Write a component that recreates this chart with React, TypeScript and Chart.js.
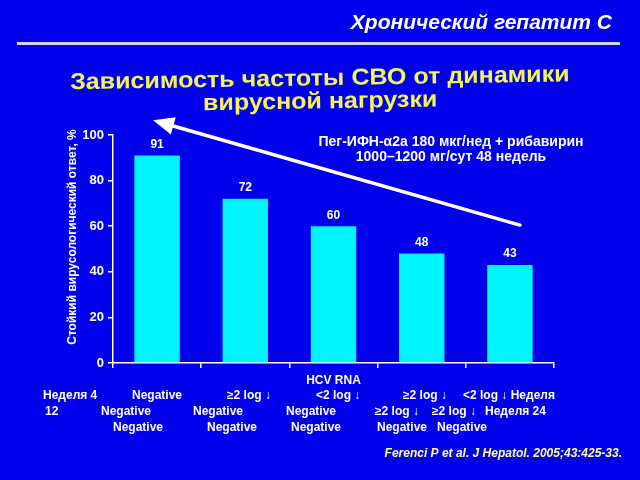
import React, { useEffect, useRef } from 'react';
import { Chart, registerables } from 'chart.js';

Chart.register(...registerables);

// ---- data ----
const categories = [
  'Нед.4 Negative / Нед.12 Negative / Нед.24 Negative',
  'Нед.4 ≥2 log ↓ / Нед.12 Negative / Нед.24 Negative',
  'Нед.4 <2 log ↓ / Нед.12 Negative / Нед.24 Negative',
  'Нед.4 ≥2 log ↓ / Нед.12 ≥2 log ↓ / Нед.24 Negative',
  'Нед.4 <2 log ↓ / Нед.12 ≥2 log ↓ / Нед.24 Negative',
];
const svrValues = [91, 72, 60, 48, 43];
const yMin = 0;
const yMax = 100;
const yStep = 20;

const headerText = 'Хронический гепатит С';
const titleLines = ['Зависимость частоты СВО от динамики', 'вирусной нагрузки'];
const noteLines = ['Пег-ИФН-α2а 180 мкг/нед + рибавирин', '1000–1200 мг/сут 48 недель'];
const yTitle = 'Стойкий вирусологический ответ, %';
const xTitle = 'HCV RNA';
const row1Texts = ['Неделя 4', 'Negative', '≥2 log ↓', '<2 log ↓', '≥2 log ↓', '<2 log ↓ Неделя'];
const row2Texts = ['12', 'Negative', 'Negative', 'Negative', '≥2 log ↓', '≥2 log ↓', 'Неделя 24'];
const row3Texts = ['Negative', 'Negative', 'Negative', 'Negative', 'Negative'];
const sourceText = 'Ferenci P et al. J Hepatol. 2005;43:425-33.';

// ---- layout / style (not data) ----
const row1X = [43, 132, 227, 316, 403, 463];
const row2X = [45, 101, 193, 286, 375, 432, 485];
const row3X = [113, 207, 291, 377, 437];
const BG = '#0000EA';
const BAR = '#00F6FF';
const FONT = '"Liberation Sans", Arial, sans-serif';

const overlayPlugin = {
  id: 'overlay',
  beforeDraw(chart: any) {
    const ctx = chart.ctx;
    ctx.save();
    ctx.fillStyle = BG;
    ctx.fillRect(0, 0, chart.width, chart.height);
    ctx.restore();
  },
  afterDraw(chart: any) {
    const ctx = chart.ctx;
    const xs = chart.scales.x;
    const ys = chart.scales.y;
    ctx.save();

    // header
    ctx.fillStyle = '#FFFFFF';
    ctx.font = `italic bold 21px ${FONT}`;
    ctx.textAlign = 'right';
    ctx.textBaseline = 'middle';
    ctx.fillText(headerText, 612, 23);

    ctx.strokeStyle = '#D4D4F4';
    ctx.lineWidth = 3;
    ctx.beginPath();
    ctx.moveTo(17, 43.5);
    ctx.lineTo(620, 43.5);
    ctx.stroke();

    // title (slightly tilted)
    ctx.fillStyle = '#F4F45A';
    ctx.font = `bold 23px ${FONT}`;
    ctx.textAlign = 'center';
    ctx.save();
    ctx.translate(320, 90);
    ctx.rotate(-0.016);
    ctx.scale(1.09, 1);
    ctx.fillText(titleLines[0], 0, -11);
    ctx.fillText(titleLines[1], 0, 12);
    ctx.restore();

    // note
    ctx.fillStyle = '#FFFFFF';
    ctx.font = `bold 14px ${FONT}`;
    ctx.fillText(noteLines[0], 451, 142);
    ctx.fillText(noteLines[1], 451, 157);

    // y title
    ctx.save();
    ctx.font = `bold 12px ${FONT}`;
    ctx.translate(73, 237);
    ctx.rotate(-Math.PI / 2);
    ctx.fillText(yTitle, 0, 0);
    ctx.restore();

    // x title
    ctx.font = `bold 12px ${FONT}`;
    ctx.fillText(xTitle, (xs.left + xs.right) / 2, 381);

    // row labels
    ctx.textAlign = 'left';
    row1Texts.forEach((t, i) => ctx.fillText(t, row1X[i], 396));
    row2Texts.forEach((t, i) => ctx.fillText(t, row2X[i], 412));
    row3Texts.forEach((t, i) => ctx.fillText(t, row3X[i], 428));

    // source
    ctx.fillStyle = '#FFFF99';
    ctx.font = `italic bold 12px ${FONT}`;
    ctx.textAlign = 'right';
    ctx.fillText(sourceText, 622, 454);

    // value labels
    ctx.fillStyle = '#FFFFFF';
    ctx.font = `bold 12px ${FONT}`;
    ctx.textAlign = 'center';
    const meta = chart.getDatasetMeta(0);
    meta.data.forEach((bar: any, i: number) => {
      ctx.fillText(String(svrValues[i]), bar.x, bar.y - 11);
    });

    // trend arrow
    const x0 = xs.getPixelForValue(4) + 10;
    const y0 = ys.getPixelForValue(60.5);
    const x1 = xs.getPixelForValue(0) - 4;
    const y1 = ys.getPixelForValue(106.5);
    const ang = Math.atan2(y1 - y0, x1 - x0);
    const headLen = 21;
    const headW = 9;
    const bx = x1 - headLen * Math.cos(ang);
    const by = y1 - headLen * Math.sin(ang);
    ctx.strokeStyle = '#FFFFFF';
    ctx.lineWidth = 3.5;
    ctx.lineCap = 'round';
    ctx.beginPath();
    ctx.moveTo(x0, y0);
    ctx.lineTo(bx, by);
    ctx.stroke();
    ctx.beginPath();
    ctx.moveTo(x1, y1);
    ctx.lineTo(bx + headW * Math.sin(ang), by - headW * Math.cos(ang));
    ctx.lineTo(bx - headW * Math.sin(ang), by + headW * Math.cos(ang));
    ctx.closePath();
    ctx.fillStyle = '#FFFFFF';
    ctx.fill();

    ctx.restore();
  },
};

export default function App() {
  const ref = useRef<HTMLCanvasElement | null>(null);
  useEffect(() => {
    if (!ref.current) return;
    const chart = new Chart(ref.current, {
      type: 'bar',
      data: {
        labels: categories,
        datasets: [
          {
            data: svrValues,
            backgroundColor: BAR,
            borderWidth: 0,
            barPercentage: 0.515,
            categoryPercentage: 1,
          },
        ],
      },
      options: {
        responsive: false,
        animation: false,
        layout: { padding: { top: 135, right: 86, left: 0, bottom: 0 } },
        plugins: { legend: { display: false }, tooltip: { enabled: false }, title: { display: false } },
        scales: {
          x: {
            afterFit: (s: any) => { s.height = 117; },
            ticks: { display: false },
            grid: { offset: true, drawOnChartArea: false, drawTicks: true, tickLength: 5, color: '#FFFFFF', lineWidth: 1.5 },
            border: { color: '#FFFFFF', width: 1.5 },
          },
          y: {
            min: yMin,
            max: yMax,
            afterFit: (s: any) => { s.width = 113; },
            ticks: { stepSize: yStep, color: '#FFFFFF', font: { family: FONT, size: 13, weight: 'bold' }, padding: 4 },
            grid: { drawOnChartArea: false, drawTicks: true, tickLength: 5, color: '#FFFFFF', lineWidth: 1.5 },
            border: { color: '#FFFFFF', width: 1.5 },
          },
        },
      },
      plugins: [overlayPlugin],
    });
    return () => chart.destroy();
  }, []);
  return (
    <div style={{ position: 'fixed', left: 0, top: 0, width: 640, height: 480, background: BG }}>
      <canvas ref={ref} width={640} height={480} style={{ display: 'block' }} />
    </div>
  );
}
